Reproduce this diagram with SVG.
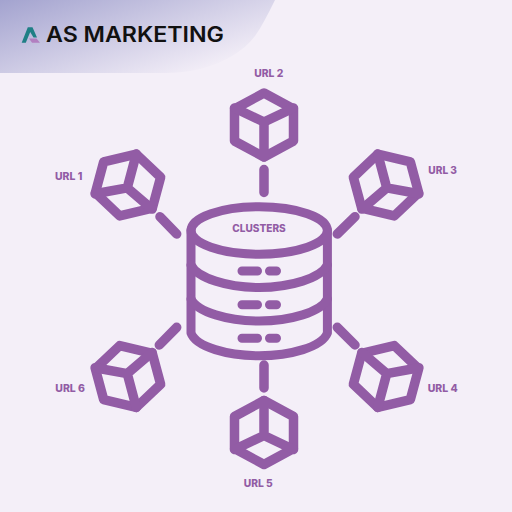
<svg xmlns="http://www.w3.org/2000/svg" width="512" height="512" viewBox="0 0 512 512">
<style>
.s{fill:none;stroke:#925ca5;stroke-width:9;stroke-linecap:round;stroke-linejoin:round}
.k{fill:none;stroke:#925ca5;stroke-width:9.5;stroke-linecap:round;stroke-linejoin:round}
.c{fill:none;stroke:#925ca5;stroke-width:9.5;stroke-linecap:round}
.t{font-family:"Inter","Liberation Sans",sans-serif;font-weight:800;font-size:10px;fill:#925ca5}
</style>
<defs>
<linearGradient id="h" gradientUnits="userSpaceOnUse" x1="0" y1="0" x2="43" y2="127">
<stop offset="0" stop-color="#a3a3cf"/><stop offset="1" stop-color="#f4eff8"/>
</linearGradient>
<g id="cube" class="k"><path d="M0,-32 L29.5,-16 V16 L0,32 L-29.5,16 V-16 Z"/><path d="M-29.5,-17 L0,-3 L29.5,-17 M0,-3 V32"/></g>
</defs>
<rect width="512" height="512" fill="#f4eff8"/>
<g id="header">
<path d="M0,0 H275 C268,14 262,26 255,36 C243,52 224,62 204,68 C190,72 176,73 160,73 H0 Z" fill="url(#h)"/>
<path d="M21.7,42.7 L27.8,27.3 H32.5 L37,37.5 H33.5 L30.2,32 L25.8,42.7 Z" fill="#1f7f85"/>
<path d="M29,38.5 H36.5 L40,42.7 H32 Z" fill="#b27fc0"/>
<text x="46" y="42.3" font-family="Inter,'Liberation Sans',sans-serif" font-weight="600" font-size="21" fill="#111" textLength="178" lengthAdjust="spacingAndGlyphs">AS MARKETING</text>
</g>
<g id="connectors">
<path class="c" d="M264,169.5 V192.5 M264,365 V388 M160,216.7 L176.7,234 M337.3,234 L355,216.7 M337.3,327.3 L355,345 M159.3,345 L176.7,327.3"/>
</g>
<g id="clusters">
<ellipse class="s" cx="259.2" cy="230.5" rx="68.2" ry="23.7"/>
<path class="s" d="M191,230 V333 C196,347 228,355.7 259.2,355.7 S322,347 327.4,333 V230"/>
<path class="s" d="M191,265 C197,278 228,287.5 259.2,287.5 S321,278 327.4,265 M191,299 C197,312 228,321 259.2,321 S321,312 327.4,299"/>
<path class="s" d="M242,271 H257.5 M269.5,271 H276.5 M242,304.7 H257.5 M269.5,304.7 H276.5 M242,338.3 H257.5 M269.5,338.3 H276.5"/>
<text class="t" x="232.3" y="231.7" textLength="53.4" lengthAdjust="spacingAndGlyphs">CLUSTERS</text>
</g>
<g id="url1"><use href="#cube" transform="translate(128,185) rotate(195)"/><text class="t" x="55" y="180" textLength="27.3" lengthAdjust="spacingAndGlyphs">URL 1</text></g>
<g id="url2"><use href="#cube" transform="translate(264,125)"/><text class="t" x="254.3" y="77.3" textLength="29" lengthAdjust="spacingAndGlyphs">URL 2</text></g>
<g id="url3"><use href="#cube" transform="translate(386,185) rotate(165)"/><text class="t" x="428.3" y="173.7" textLength="28.7" lengthAdjust="spacingAndGlyphs">URL 3</text></g>
<g id="url4"><use href="#cube" transform="translate(386,376.5) rotate(15)"/><text class="t" x="427.7" y="391.7" textLength="30" lengthAdjust="spacingAndGlyphs">URL 4</text></g>
<g id="url5"><use href="#cube" transform="translate(264,432.5) rotate(180)"/><text class="t" x="243.7" y="487" textLength="29" lengthAdjust="spacingAndGlyphs">URL 5</text></g>
<g id="url6"><use href="#cube" transform="translate(128,376.5) rotate(-15)"/><text class="t" x="55.3" y="391.7" textLength="29.7" lengthAdjust="spacingAndGlyphs">URL 6</text></g>
</svg>
